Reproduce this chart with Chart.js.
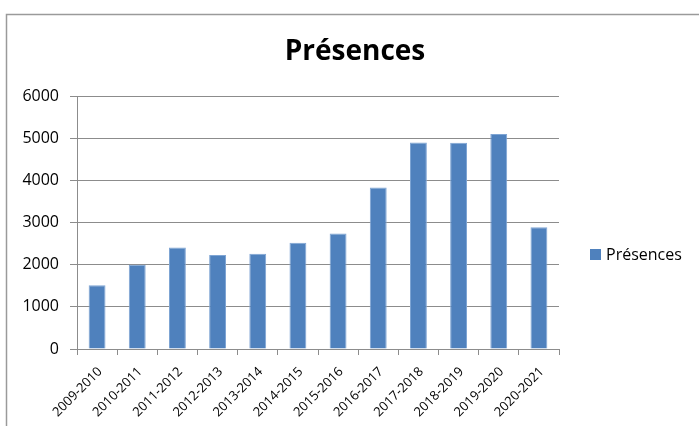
<!DOCTYPE html>
<html>
<head>
<meta charset="utf-8">
<script src="https://cdn.jsdelivr.net/npm/chart.js@4"></script>
<style>
  html, body { margin: 0; padding: 0; background: #fff; }
  #wrap { position: relative; width: 699px; height: 426px; }
</style>
</head>
<body>
<div id="wrap"><canvas id="presenceChart" width="699" height="426"></canvas></div>
<script>
// Data
const seasons = ['2009-2010', '2010-2011', '2011-2012', '2012-2013', '2013-2014', '2014-2015',
                 '2015-2016', '2016-2017', '2017-2018', '2018-2019', '2019-2020', '2020-2021'];
const presences = [1510, 2000, 2410, 2230, 2260, 2520, 2740, 3830, 4900, 4890, 5100, 2890];
const yTicks = [0, 1000, 2000, 3000, 4000, 5000, 6000];
const chartTitle = 'Présences';

const barColor = '#4F81BD';
const gridColor = '#8c8c8c';

// Outer frame and title of the chart object
const framePlugin = {
    id: 'frame',
    beforeDraw(chart) {
        const ctx = chart.ctx;
        ctx.save();
        ctx.fillStyle = '#fff';
        ctx.fillRect(0, 0, chart.width, chart.height);
        ctx.strokeStyle = '#9a9a9a';
        ctx.lineWidth = 1.5;
        ctx.strokeRect(6.5, 14.5, 900, 900);
        ctx.fillStyle = '#000';
        ctx.font = 'bold 28px "Open Sans"';
        ctx.textAlign = 'center';
        ctx.textBaseline = 'alphabetic';
        ctx.fillText(chartTitle, 355, 60);
        ctx.restore();
    }
};

// Legend on the right, drawn like the spreadsheet one
const sideLegend = {
    id: 'sideLegend',
    afterDraw(chart) {
        const ctx = chart.ctx;
        ctx.save();
        ctx.fillStyle = barColor;
        ctx.fillRect(590, 249, 11, 11);
        ctx.fillStyle = '#000';
        ctx.font = '16px "Open Sans"';
        ctx.textBaseline = 'alphabetic';
        ctx.textAlign = 'left';
        ctx.fillText(chart.data.datasets[0].label, 606, 260);
        ctx.restore();
    }
};

const ctx = document.getElementById('presenceChart').getContext('2d');
new Chart(ctx, {
    type: 'bar',
    data: {
        labels: seasons,
        datasets: [{
            label: 'Présences',
            data: presences,
            backgroundColor: barColor,
            borderColor: '#7fa5d4',
            borderWidth: 1,
            categoryPercentage: 1.0,
            barPercentage: 0.42
        }]
    },
    options: {
        responsive: false,
        animation: false,
        layout: { padding: { top: 96, right: 140, bottom: 0, left: 0 } },
        plugins: {
            legend: { display: false },
            tooltip: { enabled: false },
            title: { display: false }
        },
        scales: {
            x: {
                offset: true,
                grid: {
                    offset: true,
                    drawOnChartArea: false,
                    drawTicks: true,
                    tickLength: 6,
                    color: gridColor
                },
                border: { color: gridColor, width: 1 },
                ticks: {
                    autoSkip: false,
                    maxRotation: 45,
                    minRotation: 45,
                    padding: 9,
                    labelOffset: 3,
                    color: '#000',
                    font: { family: 'Open Sans', size: 13 }
                },
                afterFit(scale) { scale.height = 77; }
            },
            y: {
                min: 0,
                max: 6000,
                afterBuildTicks(scale) { scale.ticks = yTicks.map(v => ({ value: v })); },
                grid: { color: gridColor, tickLength: 7 },
                border: { color: gridColor, width: 1 },
                ticks: {
                    padding: 11,
                    color: '#000',
                    font: { family: 'Open Sans', size: 16 },
                    callback: value => String(value)
                },
                afterFit(scale) { scale.width = 77; }
            }
        }
    },
    plugins: [framePlugin, sideLegend]
});
</script>
</body>
</html>
